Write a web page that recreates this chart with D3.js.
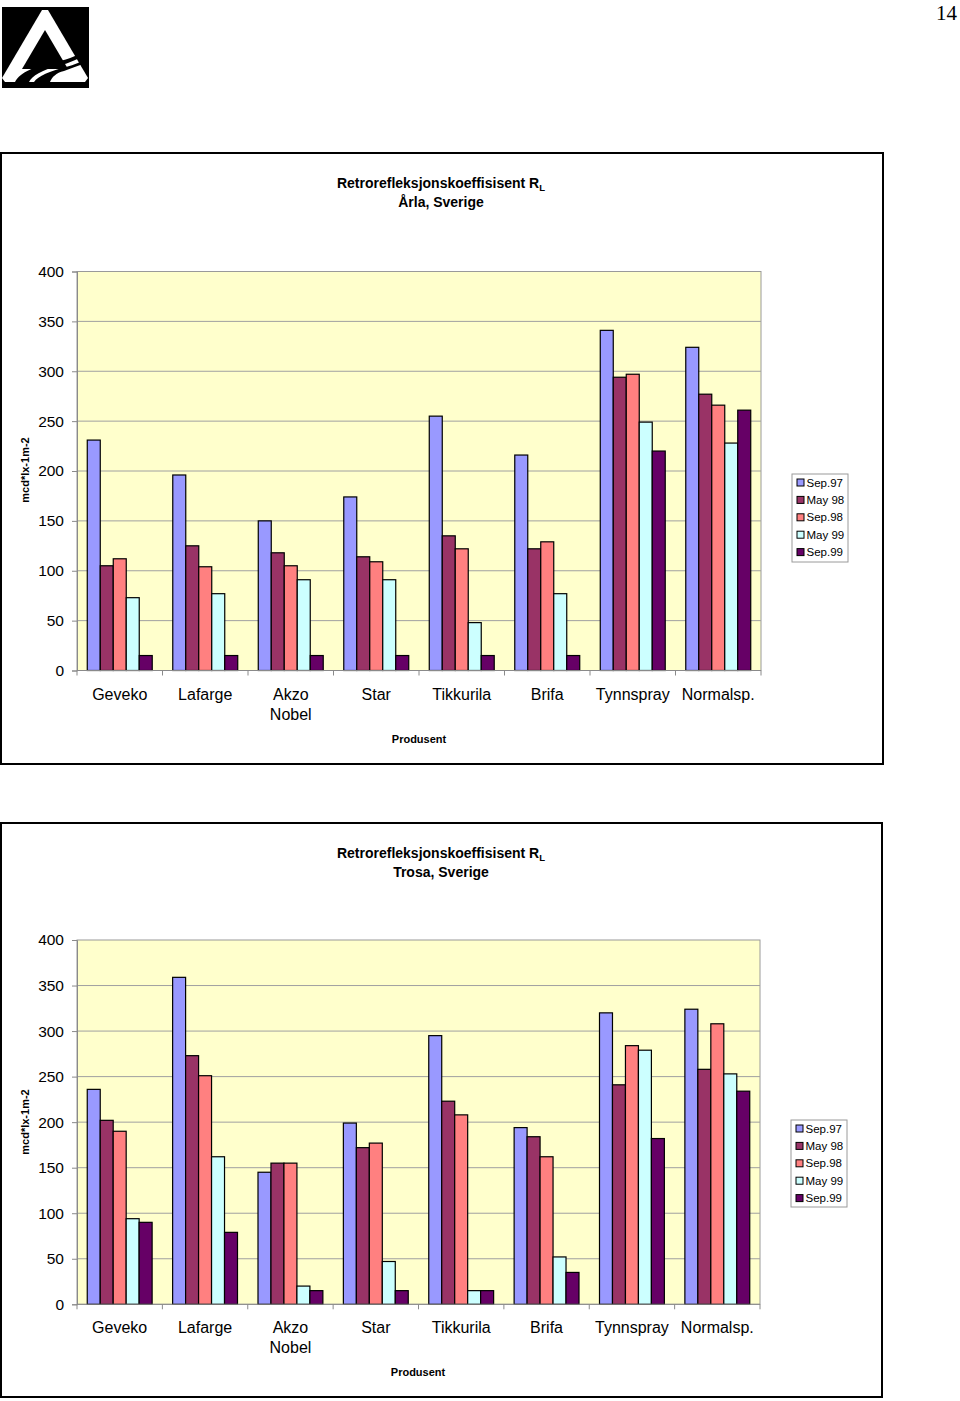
<!DOCTYPE html>
<html><head><meta charset="utf-8">
<script src="https://cdn.jsdelivr.net/npm/d3@7/dist/d3.min.js"></script>
<style>body{margin:0;background:#fff}svg{display:block}</style>
</head><body>
<svg id="page" width="960" height="1401"></svg>
<script>
// ---------- DATA ----------
const categories = ["Geveko","Lafarge","Akzo\nNobel","Star","Tikkurila","Brifa","Tynnspray","Normalsp."];
const seriesNames = ["Sep.97","May 98","Sep.98","May 99","Sep.99"];
const seriesColors = ["#9999FF","#993366","#FF8080","#CCFFFF","#660066"];
const yTicks = [0,50,100,150,200,250,300,350,400];

// Årla, Sverige
const arlaSep97 = [231,196,150,174,255,216,341,324];
const arlaMay98 = [105,125,118,114,135,122,294,277];
const arlaSep98 = [112,104,105,109,122,129,297,266];
const arlaMay99 = [73,77,91,91,48,77,249,228];
const arlaSep99 = [15,15,15,15,15,15,220,261];

// Trosa, Sverige
const trosaSep97 = [236,359,145,199,295,194,320,324];
const trosaMay98 = [202,273,155,172,223,184,241,258];
const trosaSep98 = [190,251,155,177,208,162,284,308];
const trosaMay99 = [94,162,20,47,15,52,279,253];
const trosaSep99 = [90,79,15,15,15,35,182,234];

const svg = d3.select("#page");
const FONT = "Liberation Sans, Arial, sans-serif";

// ---------- page number ----------
svg.append("text").attr("x",957).attr("y",20).attr("text-anchor","end")
  .attr("font-family","Liberation Serif, Times New Roman, serif").attr("font-size",21).text("14");

// ---------- logo ----------
const logo = svg.append("g");
logo.append("rect").attr("x",2).attr("y",7).attr("width",87).attr("height",81).attr("fill","#000");
logo.append("path").attr("d","M42,10 L48,10 L88,78 L85,82 L5,82 L2,78 Z").attr("fill","#fff");
logo.append("path").attr("d","M45,30 L68,69 L22,69 Z").attr("fill","#000");
logo.append("path").attr("d","M15,82 C20,72 36,66 56,62 C70,59 80,54 89,49 L89,53 C80,58 70,63 58,66 C42,70 32,76 29,82 Z").attr("fill","#000");
logo.append("path").attr("d","M34,82 C38,76 50,71 66,67 C74,65 82,61 89,58 L89,62 C80,65 72,68 64,71 C56,73 52,77 50,82 Z").attr("fill","#000");

function drawChart(cfg){
  const g = svg.append("g");
  // frame
  g.append("rect").attr("x",cfg.frame[0]).attr("y",cfg.frame[1]).attr("width",cfg.frame[2]).attr("height",cfg.frame[3])
    .attr("fill","#fff").attr("stroke","#000").attr("stroke-width",2);
  // title
  const t1 = g.append("text").attr("x",cfg.titleX).attr("y",cfg.titleY).attr("text-anchor","middle")
    .attr("font-family",FONT).attr("font-weight","bold").attr("font-size",14).text("Retrorefleksjonskoeffisisent R");
  t1.append("tspan").attr("font-size",9.5).attr("dy",3).text("L");
  g.append("text").attr("x",cfg.titleX).attr("y",cfg.titleY+19).attr("text-anchor","middle")
    .attr("font-family",FONT).attr("font-weight","bold").attr("font-size",14).text(cfg.subtitle);

  const x = d3.scaleBand().domain(categories).range([cfg.left,cfg.right]).paddingInner(0).paddingOuter(0);
  const inner = d3.scaleBand().domain(seriesNames).range([0,x.bandwidth()]).paddingInner(0).paddingOuter(0.79);
  const y = d3.scaleLinear().domain([0,400]).range([cfg.bottom,cfg.top]);

  // plot area
  g.append("rect").attr("x",cfg.left).attr("y",cfg.top).attr("width",cfg.right-cfg.left).attr("height",cfg.bottom-cfg.top)
    .attr("fill","#FFFFCC").attr("stroke","#9a9a9a").attr("stroke-width",1);
  // gridlines
  g.selectAll(".grid").data(yTicks.filter(v=>v>0 && v<400)).join("line")
    .attr("x1",cfg.left).attr("x2",cfg.right).attr("y1",d=>y(d)).attr("y2",d=>y(d))
    .attr("stroke","#a0a0a0").attr("stroke-width",1);

  // bars
  const series = cfg.values.map((vals,i)=>({name:seriesNames[i],color:seriesColors[i],vals}));
  series.forEach(s=>{
    g.selectAll(null).data(categories).join("rect")
      .attr("x",(c)=>x(c)+inner(s.name))
      .attr("y",(c,j)=>y(s.vals[j]))
      .attr("width",inner.bandwidth())
      .attr("height",(c,j)=>y(0)-y(s.vals[j]))
      .attr("fill",s.color).attr("stroke","#000").attr("stroke-width",1.2);
  });

  // y axis
  const ya = g.append("g").attr("transform",`translate(${cfg.left},0)`)
    .call(d3.axisLeft(y).tickValues(yTicks).tickSize(5).tickPadding(7).tickFormat(d3.format("d")));
  ya.select(".domain").attr("stroke","#8a8a8a");
  ya.selectAll(".tick line").attr("stroke","#8a8a8a");
  ya.selectAll("text").attr("font-family",FONT).attr("font-size",15.5).attr("fill","#000").attr("dx",-1);

  // x axis
  g.append("line").attr("x1",cfg.left).attr("x2",cfg.right).attr("y1",cfg.bottom).attr("y2",cfg.bottom).attr("stroke","#8a8a8a");
  const bounds = categories.map(c=>x(c)).concat([cfg.right]);
  g.selectAll(null).data(bounds).join("line")
    .attr("x1",d=>d).attr("x2",d=>d).attr("y1",cfg.bottom).attr("y2",cfg.bottom+5).attr("stroke","#8a8a8a");
  categories.forEach(c=>{
    const lines = c.split("\n");
    lines.forEach((ln,k)=>{
      g.append("text").attr("x",x(c)+x.bandwidth()/2).attr("y",cfg.bottom+29+k*20).attr("text-anchor","middle")
        .attr("font-family",FONT).attr("font-size",16).text(ln);
    });
  });
  // axis titles
  g.append("text").attr("x",cfg.xTitleX).attr("y",cfg.bottom+72).attr("text-anchor","middle")
    .attr("font-family",FONT).attr("font-weight","bold").attr("font-size",11).text("Produsent");
  g.append("text").attr("transform",`translate(29,${cfg.yTitleY}) rotate(-90)`).attr("text-anchor","middle")
    .attr("font-family",FONT).attr("font-weight","bold").attr("font-size",11).text("mcd*lx-1m-2");

  // legend
  const L = cfg.legend;
  g.append("rect").attr("x",L[0]).attr("y",L[1]).attr("width",L[2]).attr("height",L[3]).attr("fill","#fff")
    .attr("stroke","#9a9a9a");
  series.forEach((s,i)=>{
    const cy = L[1]+8.5+i*17.4;
    g.append("rect").attr("x",L[0]+5).attr("y",cy-3.5).attr("width",7).attr("height",7)
      .attr("fill",s.color).attr("stroke","#000").attr("stroke-width",1);
    g.append("text").attr("x",L[0]+14.5).attr("y",cy+4).attr("font-family",FONT).attr("font-size",11.5).text(s.name);
  });
}

drawChart({
  frame:[1,153,882,611], titleX:441, titleY:188, subtitle:"Årla, Sverige",
  left:77, right:761, top:271.5, bottom:670.5, xTitleX:419, yTitleY:470,
  legend:[792,474,56,88],
  values:[arlaSep97,arlaMay98,arlaSep98,arlaMay99,arlaSep99]
});
drawChart({
  frame:[1,823,881,574], titleX:441, titleY:858, subtitle:"Trosa, Sverige",
  left:77, right:760, top:940, bottom:1304.3, xTitleX:418, yTitleY:1122,
  legend:[791,1120,56,87],
  values:[trosaSep97,trosaMay98,trosaSep98,trosaMay99,trosaSep99]
});
</script>
</body></html>
